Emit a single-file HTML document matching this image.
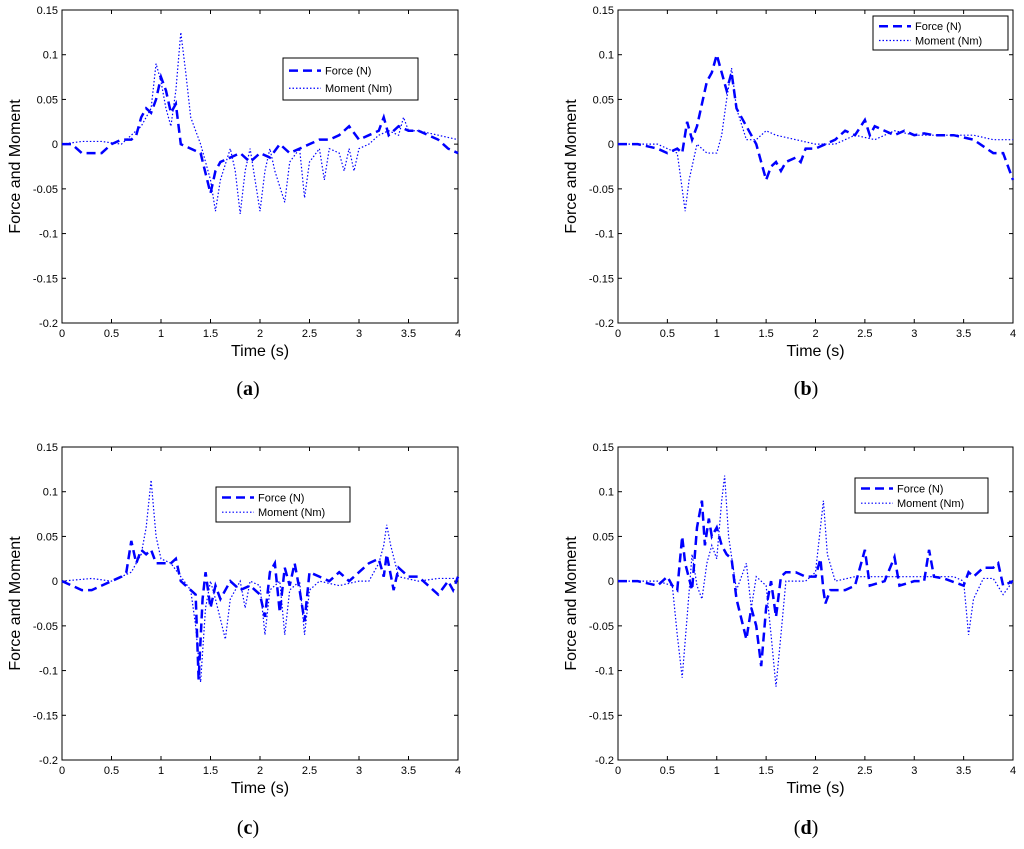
<!DOCTYPE html>
<html><head><meta charset="utf-8"><style>
body{margin:0;background:#fff;width:1024px;height:844px;overflow:hidden}
svg{font-family:"Liberation Sans",sans-serif}
</style></head><body>
<svg id="fig" width="1024" height="844" xmlns="http://www.w3.org/2000/svg"></svg>
<script>
const xTicks=[0,0.5,1,1.5,2,2.5,3,3.5,4];
const xTickLabels=["0","0.5","1","1.5","2","2.5","3","3.5","4"];
const yTicks=[0.15,0.1,0.05,0,-0.05,-0.1,-0.15,-0.2];
const yTickLabels=["0.15","0.1","0.05","0","-0.05","-0.1","-0.15","-0.2"];
const captions=["(a)","(b)","(c)","(d)"];

const aForceT=[0,0.1,0.2,0.3,0.4,0.5,0.6,0.7,0.75,0.8,0.85,0.9,0.95,1.0,1.05,1.1,1.15,1.2,1.3,1.4,1.5,1.55,1.6,1.7,1.8,1.9,2.0,2.1,2.2,2.3,2.4,2.5,2.6,2.7,2.8,2.9,3.0,3.1,3.2,3.25,3.3,3.4,3.5,3.6,3.7,3.8,3.9,4.0];
const aForceV=[0,0,-0.01,-0.01,-0.01,0,0.005,0.005,0.01,0.03,0.04,0.035,0.05,0.075,0.06,0.035,0.045,0,-0.005,-0.01,-0.055,-0.03,-0.02,-0.015,-0.01,-0.02,-0.01,-0.015,0,-0.01,-0.005,0,0.005,0.005,0.01,0.02,0.005,0.01,0.015,0.03,0.01,0.02,0.015,0.015,0.01,0.005,-0.005,-0.01];
const aMomT=[0,0.2,0.4,0.6,0.7,0.8,0.9,0.95,1.0,1.05,1.1,1.15,1.2,1.25,1.3,1.4,1.5,1.55,1.6,1.7,1.75,1.8,1.85,1.9,1.95,2.0,2.05,2.1,2.15,2.25,2.3,2.4,2.45,2.5,2.6,2.65,2.7,2.8,2.85,2.9,2.95,3.0,3.1,3.2,3.3,3.4,3.45,3.5,3.6,3.8,4.0];
const aMomV=[0,0.003,0.003,0,0.01,0.02,0.04,0.09,0.07,0.04,0.02,0.06,0.125,0.08,0.03,0,-0.04,-0.075,-0.04,-0.005,-0.03,-0.078,-0.03,-0.005,-0.04,-0.075,-0.03,-0.005,-0.03,-0.065,-0.02,-0.005,-0.06,-0.02,-0.005,-0.04,-0.005,-0.01,-0.03,-0.005,-0.03,-0.005,0,0.01,0.015,0.01,0.03,0.015,0.015,0.01,0.005];

const bForceT=[0,0.2,0.4,0.5,0.6,0.65,0.7,0.75,0.8,0.85,0.9,0.95,1.0,1.05,1.1,1.15,1.2,1.3,1.4,1.45,1.5,1.55,1.6,1.65,1.7,1.8,1.85,1.9,2.0,2.1,2.2,2.3,2.4,2.5,2.55,2.6,2.7,2.8,2.9,3.0,3.1,3.2,3.4,3.6,3.8,3.9,4.0];
const bForceV=[0,0,-0.005,-0.01,-0.005,-0.01,0.025,0.005,0.02,0.045,0.07,0.08,0.1,0.08,0.06,0.08,0.04,0.02,0,-0.02,-0.04,-0.025,-0.02,-0.03,-0.02,-0.015,-0.02,-0.005,-0.005,0,0.005,0.015,0.01,0.027,0.01,0.02,0.015,0.01,0.015,0.01,0.012,0.01,0.01,0.005,-0.01,-0.01,-0.04];
const bMomT=[0,0.4,0.6,0.65,0.68,0.72,0.8,0.9,1.0,1.05,1.1,1.15,1.2,1.3,1.4,1.5,1.6,1.8,2.0,2.2,2.4,2.6,2.8,3.0,3.2,3.4,3.6,3.8,4.0];
const bMomV=[0,0,-0.01,-0.05,-0.075,-0.04,0,-0.01,-0.01,0.01,0.05,0.085,0.04,0.005,0.005,0.015,0.01,0.005,0,0,0.01,0.005,0.015,0.01,0.01,0.01,0.01,0.005,0.005];

const cForceT=[0,0.1,0.2,0.3,0.4,0.5,0.6,0.65,0.7,0.75,0.8,0.85,0.9,0.95,1.0,1.1,1.15,1.2,1.3,1.35,1.38,1.42,1.45,1.5,1.55,1.6,1.7,1.8,1.9,2.0,2.05,2.1,2.15,2.2,2.25,2.3,2.35,2.4,2.45,2.5,2.6,2.7,2.8,2.9,3.0,3.1,3.2,3.25,3.28,3.35,3.4,3.5,3.6,3.7,3.8,3.9,3.95,4.0];
const cForceV=[0,-0.005,-0.01,-0.01,-0.005,0,0.005,0.01,0.045,0.02,0.035,0.03,0.035,0.02,0.02,0.02,0.025,0,-0.01,-0.015,-0.11,-0.02,0.01,-0.03,-0.005,-0.02,0,-0.01,-0.005,-0.015,-0.04,0.01,0.02,-0.035,0.015,-0.005,0.02,-0.01,-0.045,0.01,0.005,0,0.01,0,0.01,0.02,0.025,0.005,0.03,-0.01,0.015,0.005,0.005,-0.005,-0.015,0,-0.01,0.005];
const cMomT=[0,0.3,0.5,0.7,0.8,0.85,0.9,0.95,1.0,1.1,1.2,1.3,1.35,1.4,1.45,1.5,1.55,1.65,1.7,1.8,1.85,1.9,2.0,2.05,2.1,2.2,2.25,2.3,2.4,2.45,2.5,2.6,2.8,3.0,3.1,3.2,3.25,3.28,3.32,3.4,3.6,3.8,4.0];
const cMomV=[0,0.003,0,0.01,0.03,0.06,0.113,0.05,0.025,0.02,0.005,-0.01,-0.05,-0.113,-0.03,0,-0.02,-0.065,-0.02,0,-0.03,0,-0.005,-0.06,-0.01,0,-0.06,-0.01,0,-0.06,-0.01,0,-0.005,0,0,0.02,0.04,0.063,0.04,0.005,0,0.003,0.003];

const dForceT=[0,0.2,0.4,0.5,0.55,0.6,0.65,0.68,0.75,0.8,0.85,0.88,0.92,0.95,1.0,1.05,1.1,1.15,1.2,1.3,1.35,1.4,1.45,1.5,1.55,1.6,1.65,1.7,1.8,1.9,2.0,2.05,2.08,2.1,2.15,2.3,2.4,2.5,2.55,2.7,2.8,2.85,3.0,3.1,3.15,3.2,3.3,3.5,3.55,3.6,3.7,3.8,3.85,3.9,4.0];
const dForceV=[0,0,-0.005,0.005,-0.005,-0.01,0.05,0.02,-0.01,0.06,0.09,0.04,0.07,0.05,0.06,0.04,0.03,0.025,-0.02,-0.065,-0.03,-0.05,-0.095,-0.03,0,-0.04,0.005,0.01,0.01,0.005,0.005,0.025,-0.01,-0.025,-0.01,-0.01,-0.005,0.035,-0.005,0,0.027,-0.005,0,0,0.035,0.005,0.003,-0.005,0.01,0.005,0.015,0.015,0.02,-0.005,0];
const dMomT=[0,0.4,0.55,0.6,0.65,0.7,0.75,0.8,0.85,0.9,0.95,1.0,1.05,1.08,1.12,1.2,1.3,1.35,1.4,1.5,1.55,1.6,1.65,1.7,1.8,1.9,2.0,2.05,2.08,2.12,2.2,2.4,2.6,2.8,3.0,3.2,3.4,3.5,3.55,3.6,3.7,3.8,3.9,4.0];
const dMomV=[0,0,-0.005,-0.06,-0.108,-0.04,0.03,-0.005,-0.02,0.02,0.04,0.025,0.09,0.118,0.05,-0.01,0.02,-0.03,0.005,-0.005,-0.06,-0.118,-0.06,0,0,0,0.01,0.06,0.09,0.03,0,0.005,0.005,0.005,0.005,0.005,0.005,0,-0.06,-0.02,0.003,0.003,-0.015,0];

const panels=[
 {x0:62,x1:458,yTop:10,yBot:323,fT:aForceT,fV:aForceV,mT:aMomT,mV:aMomV,lg:[283,58,135,42],cap:[248,395]},
 {x0:618,x1:1013,yTop:10,yBot:323,fT:bForceT,fV:bForceV,mT:bMomT,mV:bMomV,lg:[873,16,135,34],cap:[806,395]},
 {x0:62,x1:458,yTop:447,yBot:760,fT:cForceT,fV:cForceV,mT:cMomT,mV:cMomV,lg:[216,487,134,35],cap:[248,834]},
 {x0:618,x1:1013,yTop:447,yBot:760,fT:dForceT,fV:dForceV,mT:dMomT,mV:dMomV,lg:[855,478,133,35],cap:[806,834]}
];
const NS="http://www.w3.org/2000/svg";
const svg=document.getElementById('fig');
function mk(tag,attrs,parent,text){const e=document.createElementNS(NS,tag);for(const k in attrs)e.setAttribute(k,attrs[k]);if(text!==undefined)e.textContent=text;parent.appendChild(e);return e;}
panels.forEach((p,i)=>{
 const sx=t=>p.x0+(t/4)*(p.x1-p.x0);
 const sy=v=>p.yTop+(0.15-v)/0.35*(p.yBot-p.yTop);
 const g=mk('g',{},svg);
 
 
 const r=mk('rect',{x:p.x0,y:p.yTop,width:p.x1-p.x0,height:p.yBot-p.yTop,fill:'none',stroke:'#000','stroke-width':1},g);
 
 
 xTicks.forEach((t,k)=>{const x=sx(t);
  mk('line',{x1:x,x2:x,y1:p.yBot,y2:p.yBot-4,stroke:'#000'},g);
  mk('line',{x1:x,x2:x,y1:p.yTop,y2:p.yTop+4,stroke:'#000'},g);
  const tl=mk('text',{x:x,y:p.yBot+14,'font-size':11,'text-anchor':'middle'},g,xTickLabels[k]);
  
  
 });
 yTicks.forEach((v,k)=>{const y=sy(v);
  mk('line',{x1:p.x0,x2:p.x0+4,y1:y,y2:y,stroke:'#000'},g);
  mk('line',{x1:p.x1,x2:p.x1-4,y1:y,y2:y,stroke:'#000'},g);
  const tl=mk('text',{x:p.x0-4,y:y+4,'font-size':11,'text-anchor':'end'},g,yTickLabels[k]);
  
  
 });
 const f=mk('polyline',{points:p.fT.map((t,k)=>sx(t)+','+sy(p.fV[k])).join(' '),fill:'none',stroke:'#0000ff','stroke-width':2.5,'stroke-dasharray':'9,5'},g);
 
 
 const m=mk('polyline',{points:p.mT.map((t,k)=>sx(t)+','+sy(p.mV[k])).join(' '),fill:'none',stroke:'#0000ff','stroke-width':1.2,'stroke-dasharray':'1.5,2'},g);
 
 
 const [lx,ly,lw,lh]=p.lg;
 const lg=mk('g',{},g);
 
 
 mk('rect',{x:lx,y:ly,width:lw,height:lh,fill:'#fff',stroke:'#000'},lg);
 mk('line',{x1:lx+6,x2:lx+38,y1:ly+lh*0.3,y2:ly+lh*0.3,stroke:'#0000ff','stroke-width':2.5,'stroke-dasharray':'9,5'},lg);
 mk('line',{x1:lx+6,x2:lx+38,y1:ly+lh*0.72,y2:ly+lh*0.72,stroke:'#0000ff','stroke-width':1.2,'stroke-dasharray':'1.5,2'},lg);
 mk('text',{x:lx+42,y:ly+lh*0.3+4,'font-size':11},lg,'Force (N)');
 mk('text',{x:lx+42,y:ly+lh*0.72+4,'font-size':11},lg,'Moment (Nm)');
 const xl=mk('text',{x:(p.x0+p.x1)/2,y:p.yBot+33,'font-size':16,'text-anchor':'middle'},g,'Time (s)');
 
 
 const cy=(p.yTop+p.yBot)/2;
 const yl=mk('text',{x:p.x0-42,y:cy,'font-size':16,'text-anchor':'middle',transform:'rotate(-90 '+(p.x0-42)+' '+cy+')'},g,'Force and Moment');
 
 
 const c=mk('text',{x:p.cap[0],y:p.cap[1],'font-size':20,'text-anchor':'middle','font-family':'Liberation Serif, serif'},g);
 
 
 mk('tspan',{},c,'(');mk('tspan',{'font-weight':'bold'},c,captions[i].slice(1,2));mk('tspan',{},c,')');
});
</script>
</body></html>
